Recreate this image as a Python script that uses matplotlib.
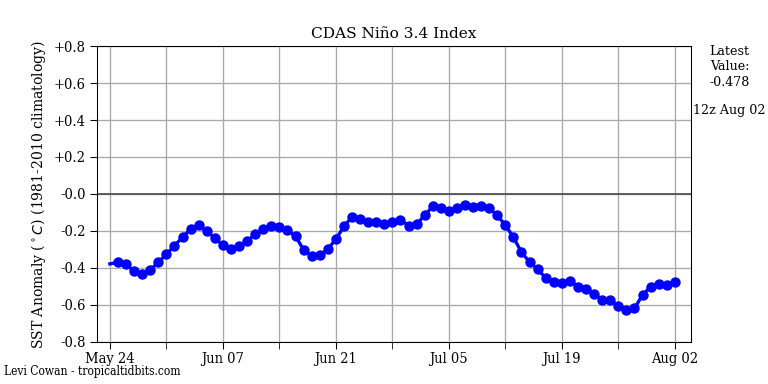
import datetime as dt
import matplotlib
matplotlib.use("Agg")
from matplotlib import pyplot as plt
from matplotlib import font_manager as fm

# daily Nino 3.4 anomaly, May 24 - Aug 02
start = dt.datetime(2020, 5, 24)
anomaly = [
    -0.378,
    -0.369, -0.380, -0.418, -0.434, -0.411, -0.369, -0.326, -0.279, -0.234, -0.189,
    -0.169, -0.202, -0.238, -0.277, -0.299, -0.283, -0.254, -0.218, -0.189, -0.175,
    -0.180, -0.196, -0.227, -0.303, -0.335, -0.332, -0.297, -0.245, -0.175, -0.124,
    -0.135, -0.151, -0.151, -0.164, -0.151, -0.139, -0.171, -0.164, -0.115, -0.067,
    -0.077, -0.090, -0.076, -0.059, -0.072, -0.065, -0.077, -0.115, -0.169, -0.234,
    -0.315, -0.368, -0.407, -0.454, -0.477, -0.483, -0.468, -0.503, -0.515, -0.539,
    -0.573, -0.573, -0.607, -0.629, -0.618, -0.546, -0.501, -0.488, -0.494, -0.478,
]
dates = [start + dt.timedelta(days=i) for i in range(len(anomaly))]
yticks = [-0.8, -0.6, -0.4, -0.2, 0.0, 0.2, 0.4, 0.6, 0.8]
ytick_labels = ["-0.8", "-0.6", "-0.4", "-0.2", "-0.0", "+0.2", "+0.4", "+0.6", "+0.8"]

plt.rcParams["font.family"] = "serif"
plt.rcParams["font.serif"] = ["DejaVu Serif"]
cond = fm.FontProperties(family="DejaVu Serif", stretch="condensed", size=11)

fig = plt.figure(figsize=(8, 4), dpi=96)
ax = fig.add_axes([0.1263, 0.1094, 0.7734, 0.7708])

ax.plot(dates, anomaly, color="blue", lw=2.5, marker="o", ms=6.8,
        markevery=slice(1, None), zorder=3)
ax.axhline(0, color="#444444", lw=1.2, zorder=2)

ax.set_ylim(-0.8, 0.8)
ax.set_xlim(start - dt.timedelta(days=1.6), dates[-1] + dt.timedelta(days=2))
ax.set_yticks(yticks)
ax.set_yticklabels(ytick_labels, fontproperties=cond)
major = [start + dt.timedelta(days=14 * i) for i in range(6)]
minor = [start + dt.timedelta(days=7 + 14 * i) for i in range(5)]
ax.set_xticks(major)
ax.set_xticks(minor, minor=True)
ax.set_xticklabels([d.strftime("%b %d") for d in major], fontproperties=cond)
ax.tick_params(which="both", length=5)
ax.tick_params(axis="x", pad=2.5)
ax.grid(True, which="both", color="#aaaaaa", lw=1)
ax.set_axisbelow(True)

ax.set_title("CDAS Niño 3.4 Index", fontsize=11.5)
ax.set_ylabel(r"SST Anomaly ($^\circ C$) (1981-2010 climatology)", fontsize=10.5)

fig.text(0.950, 0.826, "Latest\nValue:\n-0.478", ha="center", va="center",
         fontsize=9.5, linespacing=1.25)
fig.text(0.950, 0.711, "12z Aug 02", ha="center", va="center", fontsize=9.5)
fig.text(0.005, 0.033, "Levi Cowan - tropicaltidbits.com", ha="left", va="center",
         fontproperties=fm.FontProperties(family="DejaVu Serif", stretch="condensed", size=9))

fig.savefig("out.png", dpi=96)
